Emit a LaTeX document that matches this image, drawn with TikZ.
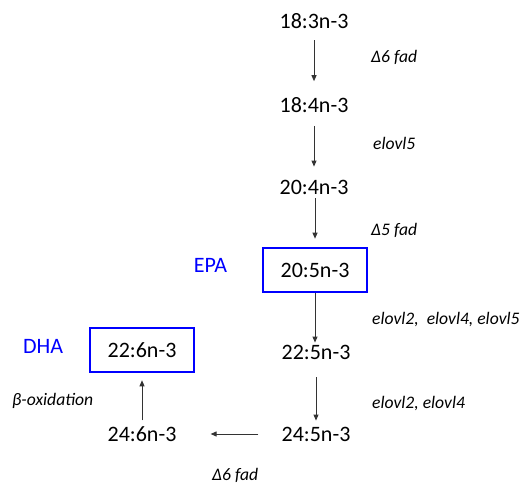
\documentclass[tikz,border=0pt]{standalone}
\usepackage{fontspec}
\setmainfont{Carlito}
\usetikzlibrary{arrows.meta}
\begin{document}
\begin{tikzpicture}[x=1pt,y=-1pt,
  acid/.style={inner sep=0pt,font=\fontsize{22}{24}\selectfont},
  keybox/.style={draw=blue,line width=2.6pt,minimum width=104pt,minimum height=44pt,inner sep=0pt,font=\fontsize{22}{24}\selectfont},
  enz/.style={anchor=west,inner sep=0pt,font=\fontsize{17.6}{19}\selectfont\itshape},
  tag/.style={inner sep=0pt,text=blue,font=\fontsize{22}{24}\selectfont},
  conv/.style={draw=black!80,line width=0.9pt,-{Triangle[length=6pt,width=5pt]}}]
\useasboundingbox (0,0) rectangle (521,486);
\node[acid] (a1) at (314,21.5) {18:3n-3};
\node[acid] (a2) at (314,105) {18:4n-3};
\node[acid] (a3) at (314,187) {20:4n-3};
\node[keybox] (a4) at (315,270) {20:5n-3};
\node[acid] (a5) at (316,352) {22:5n-3};
\node[acid] (a6) at (316,434) {24:5n-3};
\node[acid] (a7) at (142,434) {24:6n-3};
\node[keybox] (a8) at (142,350) {22:6n-3};
\node[tag] (epa) at (210.5,265) {EPA};
\node[tag] (dha) at (43,346) {DHA};
\node[enz] (e1) at (371,57) {Δ6 fad};
\node[enz] (e2) at (373,143) {elovl5};
\node[enz] (e3) at (371,230) {Δ5 fad};
\node[enz] (e4) at (372,320) {elovl2,\ \ elovl4, elovl5};
\node[enz] (e5) at (372,404) {elovl2, elovl4};
\node[enz] (e6) at (212,475) {Δ6 fad};
\node[enz] (e7) at (12,401) {β-oxidation};
\draw[conv,shorten <=11pt,shorten >=16pt] (a1) -- (a2);
\draw[conv,shorten <=13pt,shorten >=13pt] (a2) -- (a3);
\draw[conv,shorten <=4pt,shorten >=8pt] (a3.south -| a4) -- (a4);
\draw[conv,shorten <=0pt,shorten >=2pt] (a4) -- (a4 |- a5.north);
\draw[conv,shorten <=18pt,shorten >=6pt] (a5) -- (a6);
\draw[conv,shorten <=23pt,shorten >=34pt] (a6) -- (a7);
\draw[conv,shorten <=6pt,shorten >=7pt] (a7) -- (a8);
\end{tikzpicture}
\end{document}
